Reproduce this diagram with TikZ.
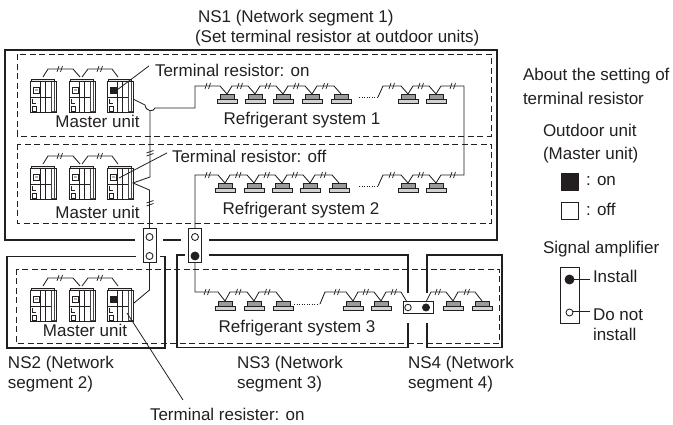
\documentclass[tikz,border=0pt]{standalone}
\usepackage{fontspec}
\setmainfont{Liberation Sans}
\definecolor{ink}{HTML}{231F20}
\definecolor{idubody}{HTML}{9A9A9A}
\definecolor{idubase}{HTML}{D2D2D2}
\definecolor{oduside}{HTML}{474747}
\begin{document}
\begin{tikzpicture}[x=1pt,y=-1pt,
  every node/.style={inner sep=0pt,outer sep=0pt,text=ink},
  lbl/.style={font=\fontsize{17}{20}\selectfont,anchor=base west},
  wire/.style={draw=ink,line width=0.85pt},
  leader/.style={draw=ink,line width=0.8pt},
  segline/.style={draw=ink,line width=1.05pt},
  dashbox/.style={draw=ink,line width=0.9pt,dash pattern=on 6pt off 3.5pt},
  dotwire/.style={draw=ink,line width=0.85pt,dash pattern=on 0.9pt off 1.6pt},
  ampbox/.style={draw=ink,line width=1pt,fill=white,rectangle},
  openterm/.style={circle,draw=ink,line width=0.85pt,fill=white,minimum size=7pt},
  fullterm/.style={circle,draw=ink,line width=0.85pt,fill=ink,minimum size=8pt},
  keysq/.style={draw=ink,line width=0.85pt,minimum size=17pt},
  brk/.pic={\draw[ink,line width=0.75pt] (-3,3) -- (-1,-3) (0.5,3) -- (2.5,-3);},
  vbrk/.pic={\draw[ink,line width=0.75pt] (-3.5,0) -- (3.5,-2.5) (-3.5,3) -- (3.5,0.5);},
  idu/.pic={
    \draw[ink,line width=0.5pt,fill=idubody] (-7,0) rectangle (7,5.5);
    \draw[ink,line width=0.5pt,fill=idubase] (-10,5.5) rectangle (10,9);
  },
  odu body/.pic={
    \fill[gray!20] (1.5,0) rectangle (24.5,2.5);
    \draw[ink,line width=0.5pt] (1.5,2.5) -- (1.5,0) -- (24.5,0) -- (24.5,2.5);
    \fill[white] (0,2.5) rectangle (26,33);
    \fill[oduside] (21,2.5) rectangle (26,33);
    \foreach \k in {22.3,23.6,24.9} \draw[white,line width=0.35pt] (\k,3.5) -- (\k,32);
    \draw[ink,line width=0.5pt] (10,2.5) -- (10,33);
    \draw[ink,line width=1.8pt] (15.5,2.5) -- (15.5,33);
    \draw[ink,line width=0.5pt] (0,18) -- (21,18);
    \draw[ink,line width=0.5pt] (2,27.5) rectangle (6.5,32);
    \draw[ink,line width=0.5pt] (2.5,20.5) -- (2.5,24) -- (6,24);
    \draw[ink,line width=0.8pt] (0,2.5) rectangle (26,33);
  },
  odu/.pic={
    \pic {odu body};
    \draw[ink,line width=0.5pt,fill=white] (3,8) rectangle (9.5,14.5);
    \fill[gray!60] (5,10) rectangle (7.5,12.5);
  },
  odu on/.pic={
    \pic {odu body};
    \draw[ink,line width=0.5pt,fill=ink] (3,8) rectangle (9.5,14.5);
  },
]
\useasboundingbox (0,0) rectangle (673,425);

% refrigerant system frames
\draw[dashbox] (17,54.5) rectangle (491,136);
\draw[dashbox] (17,144) rectangle (491,223);
\draw[dashbox] (16,269) rectangle (499,343);

% network segment borders (broken at the signal amplifiers)
\draw[segline] (135,240) -- (5,240) -- (5,50) -- (497,50) -- (497,240) -- (209,240);
\draw[segline] (163,240) -- (181,240);
\draw[segline] (136,256.5) -- (7,256.5) -- (7,348) -- (165,348) -- (165,256.5) -- (160,256.5);
\draw[segline] (185,255) -- (177,255) -- (177,347.5) -- (408,347.5) -- (408,323);
\draw[segline] (408,293) -- (408,255) -- (209,255);
\draw[segline] (427,293) -- (427,255) -- (502,255) -- (502,347.5) -- (427,347.5) -- (427,323);

% outdoor unit groups
\foreach \T in {79,166,288} {
  \pic at (30,\T) {odu};
  \pic at (69,\T) {odu};
  \draw[wire] (43,\T-2) -- (48,\T-10) -- (73,\T-10) -- (80,\T-2);
  \draw[wire] (82,\T-2) -- (88,\T-10) -- (112,\T-10) -- (118,\T-2);
  \pic at (60,\T-10) {brk};
  \pic at (100,\T-10) {brk};
}
\pic at (107,79) {odu on};
\pic at (107,166) {odu};
\pic at (107,288) {odu on};

% indoor units
\foreach \cx in {227,255,283,312,341,408,436} \pic at (\cx,94) {idu};
\foreach \cx in {225,254,282,310,339,408,436} \pic at (\cx,183) {idu};
\foreach \cx in {225,254,283,353,381,453,482} \pic at (\cx,301) {idu};

% signal amplifiers
\node[ampbox,minimum width=13pt,minimum height=34pt] (amp1) at (149.5,246) {};
\node[openterm] (amp1a) at (149.5,237) {};
\node[openterm] (amp1b) at (149.5,256) {};
\node[ampbox,minimum width=13pt,minimum height=34pt] (amp2) at (195,246) {};
\node[openterm] (amp2a) at (195,237) {};
\node[fullterm] (amp2b) at (195,256) {};
\node[ampbox,minimum width=30pt,minimum height=11pt] (amp3) at (418,307.5) {};
\node[openterm,minimum size=6.5pt] (amp3a) at (408,307.5) {};
\node[fullterm,minimum size=7pt] (amp3b) at (426,307.5) {};

% transmission wiring, NS1 master unit to refrigerant system 1 and 2
\coordinate (m1) at (133,99);
\coordinate (dip) at (150,110.5);
\draw[wire] (m1) -- (145,105) .. controls (146,112) and (154,112) .. (155,108)
  -- (195,108) -- (195,86) -- (220,86) -- (227,94) -- (232,86)
  -- (248,86) -- (255,94) -- (260,86) -- (276,86) -- (283,94) -- (288,86)
  -- (305,86) -- (312,94) -- (317,86) -- (334,86) -- (341,94);
\draw[dotwire] (359,97) -- (377,97);
\draw[wire] (378,97) -- (383,86) -- (401,86) -- (408,94) -- (413,86)
  -- (429,86) -- (436,94) -- (441,86) -- (464,86) -- (464,175)
  -- (441,175) -- (436,183) -- (429,175) -- (413,175) -- (408,183)
  -- (401,175) -- (383,175) -- (378,186);
\draw[dotwire] (359,186) -- (377,186);
\draw[wire] (amp2.north) -- (195,175) -- (218,175) -- (225,183) -- (230,175)
  -- (247,175) -- (254,183) -- (259,175) -- (275,175) -- (282,183) -- (287,175)
  -- (303,175) -- (310,183) -- (315,175) -- (332,175) -- (339,183);
\foreach \bx in {208,240,268,296.5,325.5,392,421,453} \pic at (\bx,86) {brk};
\foreach \bx in {208,238.5,267,295,323.5,392,421,453} \pic at (\bx,175) {brk};

% riser between the outdoor unit groups
\coordinate (m2) at (133,183);
\draw[wire] (dip) -- (150,177) -- (m2) -- (149.5,190) -- (amp1.north);
\pic at (150,153) {vbrk};
\pic at (150,203) {vbrk};
\draw[wire] (amp1.south) -- (149.5,290) -- (134,303);

% refrigerant system 3
\draw[wire] (amp2.south) -- (195,292) -- (218,292) -- (225,301) -- (230,292)
  -- (247,292) -- (254,301) -- (259,292) -- (276,292) -- (283,301);
\draw[dotwire] (294,304) -- (319,304);
\draw[wire] (320,304) -- (325,292) -- (346,292) -- (353,301) -- (358,292)
  -- (374,292) -- (381,301) -- (386,292) -- (401,292) -- ([xshift=4pt]amp3.north west);
\draw[wire] ([xshift=-7pt]amp3.north east) -- (431,292) -- (446,292) -- (453,301)
  -- (458,292) -- (475,292) -- (482,301);
\foreach \bx in {207,238.5,267.5,337,366,394,438,467} \pic at (\bx,292) {brk};

% labels
\node[lbl] (ttl1) at (198,23) {NS1 (Network segment 1)};
\node[lbl] (ttl2) at (195,43) {(Set terminal resistor at outdoor units)};
\node[lbl] (tr1) at (155,77) {Terminal resistor: on};
\node[lbl] (tr2) at (172,163) {Terminal resistor: off};
\node[lbl] (tr3) at (150,420) {Terminal resister: on};
\draw[leader] (tr1.west) ++(-6,-5) -- (117,90);
\draw[leader] (tr2.west) ++(-5,-4) -- (119,178);
\draw[leader] (127,313) -- (183,400);
\node[lbl,anchor=base] (mu1) at (97.5,128) {Master unit};
\node[lbl,anchor=base] (mu2) at (97.5,219) {Master unit};
\node[lbl,anchor=base] (mu3) at (85,337) {Master unit};
\node[lbl,anchor=base] (rs1) at (302,125) {Refrigerant system 1};
\node[lbl,anchor=base] (rs2) at (301,215) {Refrigerant system 2};
\node[lbl,anchor=base] (rs3) at (297,332) {Refrigerant system 3};
\node[lbl] (ns2a) at (8,368) {NS2 (Network};
\node[lbl] (ns2b) at (8,388) {segment 2)};
\node[lbl] (ns3a) at (237,368) {NS3 (Network};
\node[lbl] (ns3b) at (237,388) {segment 3)};
\node[lbl] (ns4a) at (408,368) {NS4 (Network};
\node[lbl] (ns4b) at (408,388) {segment 4)};

% key
\node[lbl] (key1) at (523,80.5) {About the setting of};
\node[lbl] (key2) at (523,104.5) {terminal resistor};
\node[lbl] (key3) at (543,137) {Outdoor unit};
\node[lbl] (key4) at (543,160) {(Master unit)};
\node[keysq,fill=ink] (keyon) at (569.5,181.5) {};
\node[keysq,fill=white] (keyoff) at (569.5,211) {};
\node[lbl] (keyont) at (586,186) {: on};
\node[lbl] (keyofft) at (586,216) {: off};
\node[lbl] (key5) at (543,254) {Signal amplifier};
\node[ampbox,minimum width=19pt,minimum height=55pt] (keyamp) at (569.5,295.5) {};
\node[fullterm,minimum size=9pt] (keyin) at (569.5,279.5) {};
\node[openterm] (keyout) at (569.5,312.5) {};
\node[lbl] (key6) at (593,283) {Install};
\node[lbl] (key7) at (593,320) {Do not};
\node[lbl] (key8) at (593,340) {install};
\draw[leader] (keyin.east) -- (590,279.5);
\draw[leader] (keyout.east) ++(0,-1) -- (590,311.5);
\end{tikzpicture}
\end{document}
